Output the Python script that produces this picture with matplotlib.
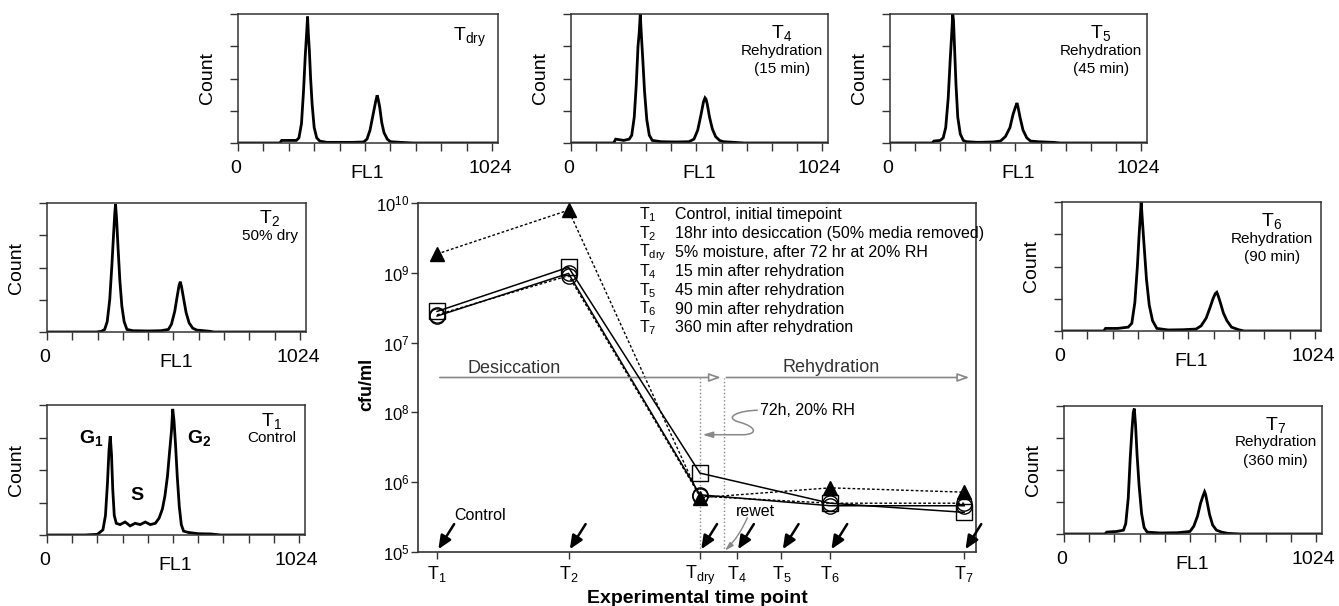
import matplotlib
matplotlib.use("Agg")
import matplotlib.pyplot as plt
from matplotlib.path import Path
from matplotlib.patches import PathPatch
import numpy as np

plt.rcParams['font.family'] = ['Liberation Sans', 'DejaVu Sans']
plt.rcParams['mathtext.fontset'] = 'custom'
plt.rcParams['mathtext.rm'] = 'Liberation Sans'
plt.rcParams['mathtext.it'] = 'Liberation Sans'
plt.rcParams['mathtext.bf'] = 'Liberation Sans:bold'

# ---- main chart data ----
time_labels = ['$\\mathregular{T_1}$', '$\\mathregular{T_2}$', '$\\mathregular{T_{dry}}$',
               '$\\mathregular{T_4}$', '$\\mathregular{T_5}$', '$\\mathregular{T_6}$',
               '$\\mathregular{T_7}$']
time_pos = [0, 1, 2, 2.28, 2.62, 2.99, 4.01]
rewet_pos = 2.18
sampled = [0, 1, 2, 5, 6]          # indices of time points with counts

cfu_square = [2.8e8, 1.2e9, 1.35e6, 5.0e5, 3.7e5]
cfu_circle = [2.4e8, 9.8e8, 6.6e5, 4.6e5, 4.6e5]
cfu_circle2 = [2.5e8, 9.1e8, 6.3e5, 5.0e5, 5.0e5]
cfu_triangle = [1.86e9, 7.9e9, 6.0e5, 8.3e5, 7.2e5]

ytick_vals = [1e5, 1e6, 1e7, 1e8, 1e9, 1e10]
ytick_text = ['$10^5$', '$10^6$', '$10^8$', '$10^7$', '$10^9$', '$10^{10}$']

legend_keys = ['$\\mathregular{T_1}$', '$\\mathregular{T_2}$', '$\\mathregular{T_{dry}}$',
               '$\\mathregular{T_4}$', '$\\mathregular{T_5}$', '$\\mathregular{T_6}$',
               '$\\mathregular{T_7}$']
legend_desc = ['Control, initial timepoint',
               '18hr into desiccation (50% media removed)',
               '5% moisture, after 72 hr at 20% RH',
               '15 min after rehydration',
               '45 min after rehydration',
               '90 min after rehydration',
               '360 min after rehydration']

# ---- flow cytometry histograms (count as % of panel height) ----
t1_fl1 = [0, 150, 200, 222, 232, 240, 246, 251, 256, 261, 267, 275, 290, 310, 330, 350, 370, 390, 410,
          430, 445, 458, 468, 478, 487, 494, 499, 504, 510, 517, 525, 533, 542, 560, 600, 650, 690, 1024]
t1_count = [0, 0, 0.5, 4, 15, 40, 65, 76, 62, 35, 15, 9, 8, 10, 7, 9, 8, 10, 8,
            9, 13, 20, 30, 45, 65, 80, 97, 88, 70, 45, 22, 8, 3, 2, 1, 0.8, 0, 0]

t2_fl1 = [0, 195, 215, 228, 238, 248, 256, 263, 268, 271, 275, 281, 288, 296, 305, 316, 340, 400, 450,
          480, 492, 505, 515, 522, 527, 532, 540, 550, 562, 576, 592, 620, 645, 660, 1024]
t2_count = [0, 0, 0.5, 2, 8, 25, 50, 75, 92, 99, 88, 65, 40, 20, 8, 2, 1, 0.8, 1,
            2, 6, 16, 28, 36, 39, 35, 26, 15, 7, 3, 1.5, 1, 0.5, 0, 0]

tdry_fl1 = [0, 165, 172, 200, 230, 240, 250, 258, 265, 270, 274, 277, 281, 286, 292, 300, 310, 322, 350,
            400, 450, 495, 508, 520, 532, 542, 548, 552, 558, 566, 575, 588, 600, 640, 690, 1024]
tdry_count = [0, 0, 2, 2, 2, 4, 15, 40, 68, 84, 98, 85, 72, 50, 30, 12, 4, 1.5, 0.5,
              0.5, 0.5, 0.8, 3, 10, 22, 32, 37, 34, 28, 16, 8, 3, 1, 0.5, 0, 0]

t4_fl1 = [0, 170, 178, 210, 232, 242, 252, 260, 267, 272, 276, 280, 286, 293, 302, 312, 324, 360, 420,
          470, 490, 505, 518, 528, 534, 538, 543, 552, 563, 576, 592, 608, 650, 690, 1024]
t4_count = [0, 0, 3, 2, 3, 6, 20, 45, 75, 86, 100, 85, 65, 40, 18, 6, 2, 1, 0.8,
            1, 3, 10, 22, 32, 35, 34, 30, 20, 11, 5, 2, 1, 0.5, 0, 0]

t5_fl1 = [0, 168, 175, 200, 212, 222, 232, 240, 246, 250, 253, 257, 263, 270, 280, 292, 305, 350, 410,
          440, 460, 478, 490, 500, 506, 510, 518, 530, 545, 560, 590, 650, 680, 1024]
t5_count = [0, 0, 1.5, 2, 4, 12, 35, 65, 85, 100, 95, 75, 45, 20, 7, 2, 1, 0.5, 0.8,
            1.5, 5, 12, 22, 28, 31, 28, 20, 10, 4, 1.5, 1, 0.5, 0, 0]

t6_fl1 = [0, 165, 172, 220, 262, 276, 288, 298, 305, 310, 313, 318, 325, 334, 345, 358, 375, 420, 480,
          530, 550, 570, 585, 597, 606, 612, 618, 626, 638, 652, 670, 698, 720, 1024]
t6_count = [0, 0, 2, 2, 3, 6, 22, 50, 75, 90, 100, 85, 65, 40, 20, 8, 2, 0.8, 1,
            1.5, 4, 10, 18, 25, 29, 30, 27, 22, 14, 8, 3, 1, 0, 0]

t7_fl1 = [0, 162, 170, 210, 236, 245, 255, 263, 270, 275, 279, 284, 290, 298, 308, 318, 330, 380, 450,
          500, 515, 530, 542, 552, 558, 562, 568, 578, 590, 605, 625, 650, 700, 1024]
t7_count = [0, 0, 1.5, 2, 3, 8, 28, 60, 82, 95, 98, 85, 62, 38, 16, 5, 1.5, 0.8, 1,
            2, 6, 14, 24, 30, 33, 31, 25, 15, 7, 3, 1.5, 0.5, 0, 0]

W, H = 1339, 606
fig = plt.figure(figsize=(W / 100, H / 100), dpi=100)


def px_axes(left, right, top, bottom):
    return fig.add_axes([left / W, 1 - bottom / H, (right - left) / W, (bottom - top) / H])


def histogram_panel(rect, fl1, count, title, sub_lines, tx, ty):
    ax = px_axes(*rect)
    ax.plot(fl1, count, color='black', lw=2.0, solid_joinstyle='miter')
    ax.set_xlim(0, 1024)
    ax.set_ylim(0, 100)
    ax.set_xticks(range(0, 1001, 100))
    ax.set_xticklabels([])
    ax.set_yticks([0, 25, 50, 75, 100])
    ax.set_yticklabels([])
    ax.tick_params(direction='out', length=6, width=1, color='#333333')
    for sp in ax.spines.values():
        sp.set_color('#333333')
        sp.set_linewidth(1.1)
    ax.set_ylabel('Count', fontsize=14, labelpad=6)
    tr = ax.get_xaxis_transform()
    ax.text(-8, -0.13, '0', transform=tr, ha='center', va='top', fontsize=14)
    ax.text(509, -0.17, 'FL1', transform=tr, ha='center', va='top', fontsize=14)
    ax.text(1078, -0.13, '1024', transform=tr, ha='right', va='top', fontsize=14)
    ax.text(tx, ty, title, transform=ax.transAxes, ha='center', va='center', fontsize=14)
    for i, s in enumerate(sub_lines):
        ax.text(tx, ty - 0.135 - 0.145 * i, s, transform=ax.transAxes,
                ha='center', va='center', fontsize=11)
    return ax


histogram_panel((238, 498, 14, 143), tdry_fl1, tdry_count, '$\\mathregular{T_{dry}}$', [], 0.89, 0.82)
histogram_panel((571, 828, 14, 143), t4_fl1, t4_count, '$\\mathregular{T_4}$',
                ['Rehydration', '(15 min)'], 0.82, 0.85)
histogram_panel((890, 1147, 14, 143), t5_fl1, t5_count, '$\\mathregular{T_5}$',
                ['Rehydration', '(45 min)'], 0.82, 0.85)
histogram_panel((47, 306, 203, 332), t2_fl1, t2_count, '$\\mathregular{T_2}$', ['50% dry'], 0.86, 0.88)
ax1 = histogram_panel((47, 305, 405, 535), t1_fl1, t1_count, '$\\mathregular{T_1}$', ['Control'], 0.87, 0.88)
ax1.text(0.17, 0.75, '$\\mathbf{G_1}$', transform=ax1.transAxes, ha='center', va='center', fontsize=14)
ax1.text(0.35, 0.30, 'S', transform=ax1.transAxes, ha='center', va='center', fontsize=14, fontweight='bold')
ax1.text(0.59, 0.75, '$\\mathbf{G_2}$', transform=ax1.transAxes, ha='center', va='center', fontsize=14)
histogram_panel((1062, 1321, 202, 331), t6_fl1, t6_count, '$\\mathregular{T_6}$',
                ['Rehydration', '(90 min)'], 0.81, 0.85)
histogram_panel((1064, 1322, 406, 534), t7_fl1, t7_count, '$\\mathregular{T_7}$',
                ['Rehydration', '(360 min)'], 0.82, 0.85)

# ---- main chart ----
ax = px_axes(418, 976, 203, 552)
ax.set_yscale('log')
ax.set_xlim(-0.145, 4.1)
ax.set_ylim(1e5, 1e10)
mx = [time_pos[i] for i in sampled]

ax.plot(mx, cfu_triangle, color='black', ls=(0, (2, 1.5)), lw=1, marker='^', ms=10,
        mfc='black', mec='black', zorder=3)
ax.plot(mx, cfu_circle2, color='black', ls=(0, (2, 1.5)), lw=1, marker='o', ms=11,
        mfc='none', mec='black', zorder=3)
ax.plot(mx, cfu_circle, color='black', ls='-', lw=1.1, marker='o', ms=11,
        mfc='none', mec='black', zorder=3)
ax.plot(mx, cfu_square, color='black', ls='-', lw=1.1, marker='s', ms=11,
        mfc='none', mec='black', zorder=4)

ax.set_yticks(ytick_vals)
ax.set_yticklabels(ytick_text, fontsize=12)
ax.minorticks_off()
ax.set_xticks(time_pos)
ax.set_xticklabels(time_labels, fontsize=13)
ax.tick_params(direction='out', length=5, width=1, color='#333333')
ax.tick_params(axis='y', pad=1)
for sp in ax.spines.values():
    sp.set_color('#333333')
    sp.set_linewidth(1.2)
ax.set_xlabel('Experimental time point', fontsize=14, fontweight='bold', labelpad=2)
ax.set_ylabel('cfu/ml', fontsize=13, fontweight='bold')
ax.yaxis.set_label_coords(-0.077, 0.48)

# legend text block
for i, (k, d) in enumerate(zip(legend_keys, legend_desc)):
    yy = 10 ** (9.83 - 0.27 * i)
    ax.text(1.54, yy, k, ha='left', va='center', fontsize=11.5)
    ax.text(1.81, yy, d, ha='left', va='center', fontsize=11.5)

# desiccation / rehydration arrows
gray = '#888888'
arr_y = 10 ** 7.5
ax.annotate('', xy=(rewet_pos, arr_y), xytext=(0, arr_y),
            arrowprops=dict(arrowstyle='-|>,head_length=0.7,head_width=0.25', fc='white', ec=gray, lw=1.2))
ax.annotate('', xy=(4.07, arr_y), xytext=(rewet_pos, arr_y),
            arrowprops=dict(arrowstyle='-|>,head_length=0.7,head_width=0.25', fc='white', ec=gray, lw=1.2))
ax.text(0.59, 10 ** 7.63, 'Desiccation', ha='center', va='center', fontsize=13, color='#333333')
ax.text(3.0, 10 ** 7.65, 'Rehydration', ha='center', va='center', fontsize=13, color='#333333')
for xv in (time_pos[2], rewet_pos):
    ax.plot([xv, xv], [1e5, arr_y], color=gray, ls=':', lw=1, zorder=1)

# 72h annotation: S-curve flowing into a left arrow towards T_dry
verts = [(2.44, 10 ** 7.03), (2.30, 10 ** 7.03), (2.17, 10 ** 6.93), (2.30, 10 ** 6.86),
         (2.42, 10 ** 6.80), (2.45, 10 ** 6.69), (2.33, 10 ** 6.68)]
codes = [Path.MOVETO] + [Path.CURVE4] * 6
ax.add_patch(PathPatch(Path(verts, codes), fc='none', ec=gray, lw=1.1, transform=ax.transData))
ax.annotate('', xy=(2.02, 10 ** 6.68), xytext=(2.33, 10 ** 6.68),
            arrowprops=dict(arrowstyle='-|>,head_length=0.6,head_width=0.18', fc=gray, ec=gray, lw=1.1,
                            shrinkA=0, shrinkB=0))
ax.text(2.46, 10 ** 7.03, '72h, 20% RH', ha='left', va='center', fontsize=11.5)

# sampling arrows
for xv in time_pos:
    ax.annotate('', xy=(xv + 0.01, 10 ** 5.04), xytext=(xv + 0.13, 10 ** 5.40),
                arrowprops=dict(arrowstyle='-|>,head_length=0.8,head_width=0.35', fc='black',
                                ec='black', lw=1.8, shrinkA=0, shrinkB=0))
ax.text(0.33, 10 ** 5.53, 'Control', ha='center', va='center', fontsize=11.5)
ax.text(2.42, 10 ** 5.58, 'rewet', ha='center', va='center', fontsize=11.5)
ax.annotate('', xy=(rewet_pos + 0.01, 10 ** 5.02), xytext=(2.36, 10 ** 5.49),
            arrowprops=dict(arrowstyle='-|>,head_length=0.5,head_width=0.15', fc=gray, ec=gray, lw=1,
                            connectionstyle='arc3,rad=-0.1', shrinkA=0, shrinkB=0))

fig.savefig('out.png', dpi=100)
